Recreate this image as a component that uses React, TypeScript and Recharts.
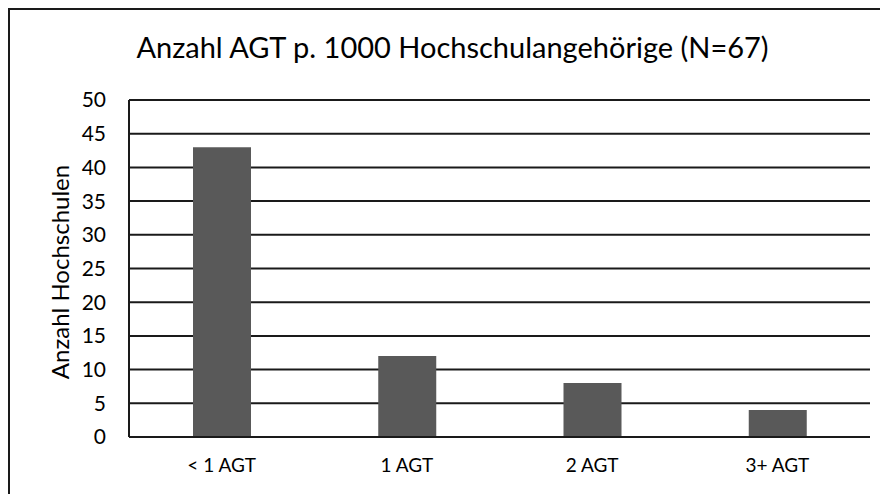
import { BarChart, Bar, XAxis, YAxis, CartesianGrid } from "recharts";

const categories = ["< 1 AGT", "1 AGT", "2 AGT", "3+ AGT"];
const hochschulen = [43, 12, 8, 4];
const yTicks = [0, 5, 10, 15, 20, 25, 30, 35, 40, 45, 50];

const data = categories.map((name, i) => ({ name, value: hochschulen[i] }));

const FONT = "Lato, 'Open Sans', sans-serif";
const LINE = "#1a1a1a";

export default function App() {
  return (
    <div
      style={{
        position: "relative",
        width: 880,
        height: 486,
        boxSizing: "border-box",
        borderTop: `2px solid ${LINE}`,
        borderLeft: `2px solid ${LINE}`,
        background: "#fff",
        fontFamily: FONT,
      }}
    >
      {/* title */}
      <div
        style={{
          position: "absolute",
          left: 0,
          width: 885,
          top: 19,
          textAlign: "center",
          fontSize: 29,
          color: "#000",
          whiteSpace: "nowrap",
        }}
      >
        Anzahl AGT p. 1000 Hochschulangehörige (N=67)
      </div>

      {/* y axis title */}
      <div
        style={{
          position: "absolute",
          left: 49,
          top: 262,
          transform: "translate(-50%, -50%) rotate(-90deg)",
          fontSize: 24,
          whiteSpace: "nowrap",
          color: "#000",
        }}
      >
        Anzahl Hochschulen
      </div>

      <BarChart
        width={878}
        height={484}
        data={data}
        margin={{ top: 90, right: 18, bottom: 0, left: 0 }}
        barCategoryGap={0}
      >
        <CartesianGrid
          yAxisId="left"
          vertical={false}
          stroke={LINE}
          strokeWidth={2}
        />
        <XAxis
          dataKey="name"
          height={57}
          axisLine={{ stroke: LINE, strokeWidth: 2 }}
          tickLine={false}
          tickSize={0}
          tickMargin={22}
          tick={{ fill: "#000", fontSize: 19, fontFamily: FONT }}
        />
        <YAxis
          yAxisId="left"
          width={119}
          domain={[0, 50]}
          ticks={yTicks}
          interval={0}
          axisLine={{ stroke: LINE, strokeWidth: 2 }}
          tickLine={false}
          tickSize={0}
          tickMargin={23}
          tick={{ fill: "#000", fontSize: 21, fontFamily: FONT }}
        />
        <YAxis
          yAxisId="right"
          orientation="right"
          width={0}
          domain={[0, 50]}
          ticks={yTicks}
          tick={false}
          tickLine={false}
          axisLine={{ stroke: LINE, strokeWidth: 2 }}
        />
        <Bar
          yAxisId="left"
          dataKey="value"
          fill="#595959"
          barSize={58}
          isAnimationActive={false}
        />
      </BarChart>
    </div>
  );
}
